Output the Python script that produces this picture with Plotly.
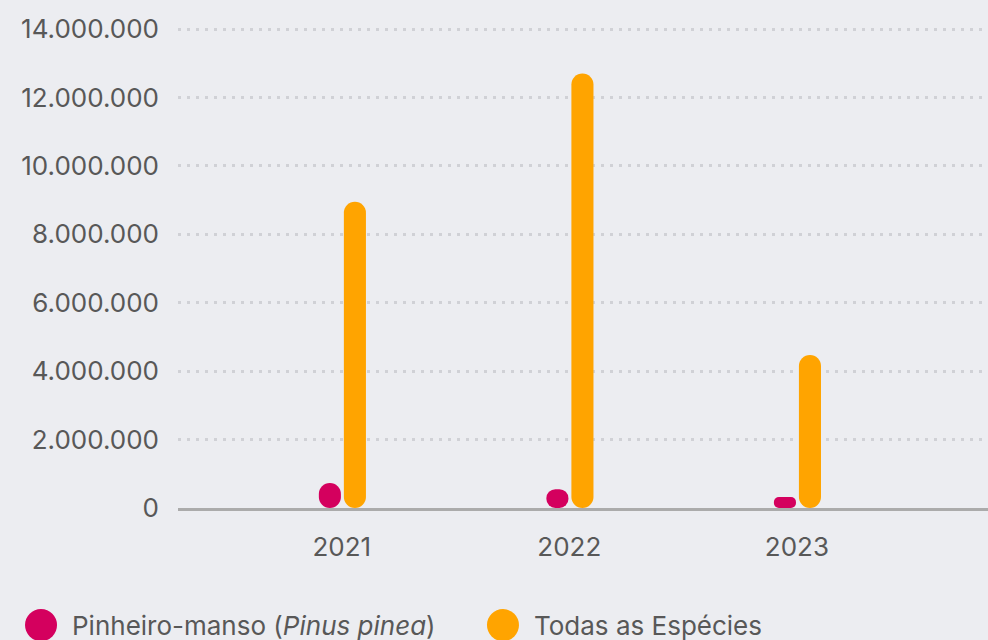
import plotly.graph_objects as go

# data
years = [2021, 2022, 2023]
pinheiro_manso = [730000, 550000, 320000]
todas_especies = [8950000, 12700000, 4470000]
y_ticks = [0, 2000000, 4000000, 6000000, 8000000, 10000000, 12000000, 14000000]

PINK = "#D4005E"
ORANGE = "#FFA400"
BG = "#ECEDF1"
TXT = "#585858"
FONT = "Inter, 'Open Sans', sans-serif"

BAR_W = 0.097        # bar width in years (~22px)

fig = go.Figure()
for vals, color, offset in [(pinheiro_manso, PINK, -0.101), (todas_especies, ORANGE, 0.009)]:
    # explicit base -> plotly rounds both ends of the bar
    fig.add_trace(go.Bar(x=years, y=vals, base=[0] * len(vals),
                         width=BAR_W, offset=offset,
                         marker=dict(color=color, cornerradius=11, line=dict(width=0)),
                         showlegend=False, hovertemplate="%{y:,d}<extra></extra>"))

fig.update_layout(
    template="none",
    width=988, height=640,
    barmode="overlay",
    paper_bgcolor=BG, plot_bgcolor=BG,
    margin=dict(l=178, r=0, t=28, b=132),
    separators=",.",
    font=dict(family=FONT, size=26, color=TXT),
    showlegend=False,
)
fig.update_xaxes(
    range=[2020.28, 2023.84], tickvals=years, ticktext=[str(y) for y in years],
    showgrid=False, zeroline=False, showline=True, linecolor="#ABABAB", linewidth=3,
    ticks="", ticklabelstandoff=14,
)
fig.update_yaxes(
    range=[0, 14030000], tickvals=y_ticks, tickformat=",d",
    showgrid=True, gridcolor="#D0D1D6", griddash="2.5px,6.5px", gridwidth=2.5,
    zeroline=False, showline=False, ticks="", ticklabelstandoff=18,
)

# legend drawn by hand to get the large round swatches
legend_items = [
    ("Pinheiro-manso (<i>Pinus pinea</i>)", PINK, -0.1691),
    ("Todas as Espécies", ORANGE, 0.4012),
]
for label, color, xp in legend_items:
    fig.add_shape(type="circle", xref="paper", yref="paper",
                  xsizemode="pixel", ysizemode="pixel", xanchor=xp, yanchor=-0.244,
                  x0=-16, x1=16, y0=-16, y1=16, fillcolor=color, line_width=0)
    fig.add_annotation(text=label, xref="paper", yref="paper", x=xp + 0.0358, y=-0.244,
                       xanchor="left", yanchor="middle", showarrow=False,
                       font=dict(family=FONT, size=26, color=TXT))

fig.write_html("out.html", config={"displayModeBar": False},
               post_script="document.body.style.margin='0';")
